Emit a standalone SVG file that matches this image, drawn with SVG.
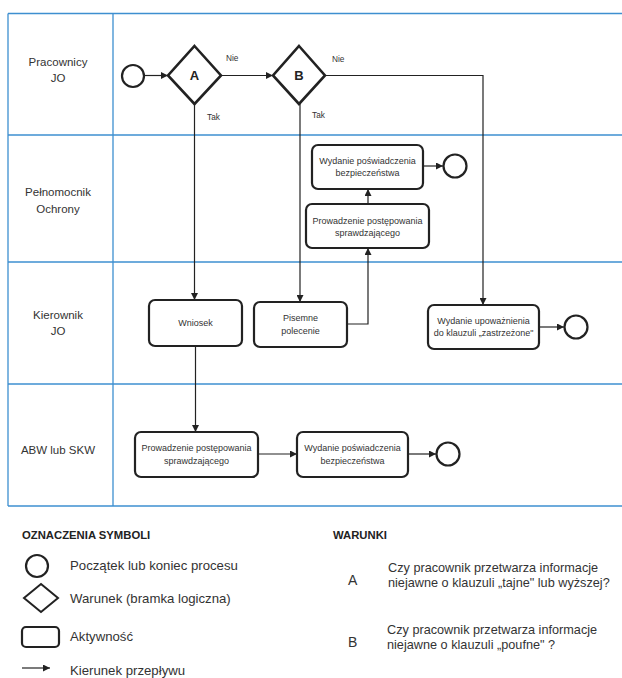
<svg xmlns="http://www.w3.org/2000/svg" width="622" height="678" viewBox="0 0 622 678">
<style>
.lane{stroke:#3d8fd0;stroke-width:1.3;fill:none}
.lbl{font-family:"Liberation Sans",Arial,sans-serif;font-size:11.5px;fill:#333;text-anchor:middle}
.bt{font-family:"Liberation Sans",Arial,sans-serif;font-size:9px;fill:#333;text-anchor:middle}
.sm{font-family:"Liberation Sans",Arial,sans-serif;font-size:8.3px;fill:#333}
.gt{font-family:"Liberation Sans",Arial,sans-serif;font-size:13px;font-weight:bold;fill:#222;text-anchor:middle}
.box{fill:#fff;stroke:#222;stroke-width:2.2}
.dia{fill:#fff;stroke:#222;stroke-width:2.6}
.ev{fill:#fff;stroke:#222;stroke-width:2.2}
.con{fill:none;stroke:#222;stroke-width:1.2}
.lg{font-family:"Liberation Sans",Arial,sans-serif;font-size:13.2px;fill:#333}
.cd{font-family:"Liberation Sans",Arial,sans-serif;font-size:12.7px;fill:#333}
.lh{font-family:"Liberation Sans",Arial,sans-serif;font-size:11.3px;font-weight:bold;fill:#222}
</style>
<defs>
<marker id="arr" viewBox="0 0 10 10" refX="10" refY="5" markerWidth="7" markerHeight="7" markerUnits="userSpaceOnUse" orient="auto">
<path d="M0,0 L10,5 L0,10 z" fill="#222"/>
</marker>
</defs>
<rect width="622" height="678" fill="#fff"/>
<g id="lanes">
<line class="lane" x1="8" y1="13.5" x2="622" y2="13.5"/>
<line class="lane" x1="8" y1="135" x2="622" y2="135"/>
<line class="lane" x1="8" y1="262" x2="622" y2="262"/>
<line class="lane" x1="8" y1="384" x2="622" y2="384"/>
<line class="lane" x1="8" y1="506" x2="622" y2="506"/>
<line class="lane" x1="8" y1="13.5" x2="8" y2="506"/>
<line class="lane" x1="113" y1="13.5" x2="113" y2="506"/>
<text class="lbl" x="58" y="66">Pracownicy</text>
<text class="lbl" x="58" y="82">JO</text>
<text class="lbl" x="58" y="196">Pełnomocnik</text>
<text class="lbl" x="58" y="213">Ochrony</text>
<text class="lbl" x="58" y="319">Kierownik</text>
<text class="lbl" x="58" y="335">JO</text>
<text class="lbl" x="58" y="454">ABW lub SKW</text>
</g>
<g id="connectors">
<line class="con" x1="144" y1="75.5" x2="168" y2="75.5" marker-end="url(#arr)"/>
<line class="con" x1="221" y1="75.5" x2="273" y2="75.5" marker-end="url(#arr)"/>
<polyline class="con" points="325,75.5 483,75.5 483,305" marker-end="url(#arr)"/>
<line class="con" x1="194.5" y1="104" x2="194.5" y2="300" marker-end="url(#arr)"/>
<line class="con" x1="300" y1="104" x2="300" y2="302" marker-end="url(#arr)"/>
<polyline class="con" points="347,324 368,324 368,248" marker-end="url(#arr)"/>
<line class="con" x1="368" y1="204" x2="368" y2="189" marker-end="url(#arr)"/>
<line class="con" x1="423" y1="166" x2="443" y2="166" marker-end="url(#arr)"/>
<line class="con" x1="539" y1="327" x2="564" y2="327" marker-end="url(#arr)"/>
<line class="con" x1="195.5" y1="346" x2="195.5" y2="432" marker-end="url(#arr)"/>
<line class="con" x1="258" y1="454" x2="297" y2="454" marker-end="url(#arr)"/>
<line class="con" x1="408" y1="454" x2="436" y2="454" marker-end="url(#arr)"/>
<text class="sm" x="226" y="61">Nie</text>
<text class="sm" x="207" y="120">Tak</text>
<text class="sm" x="332" y="62">Nie</text>
<text class="sm" x="312" y="118">Tak</text>
</g>
<g id="start"><circle class="ev" cx="133" cy="76" r="11"/></g>
<g id="gatewayA"><polygon class="dia" points="194.5,46 221,75.5 194.5,104 168,75.5"/><text class="gt" x="194.5" y="80">A</text></g>
<g id="gatewayB"><polygon class="dia" points="299,46 325,75.5 299,104 273,75.5"/><text class="gt" x="299" y="80">B</text></g>
<g id="wydanie_po"><rect class="box" x="312" y="145" width="111" height="44" rx="6"/><text class="bt" x="367.5" y="164">Wydanie poświadczenia</text><text class="bt" x="367.5" y="176">bezpieczeństwa</text></g>
<g id="end_po"><circle class="ev" cx="455" cy="166" r="11.5"/></g>
<g id="prowadzenie_po"><rect class="box" x="306" y="204" width="123" height="44" rx="6"/><text class="bt" x="367.5" y="224">Prowadzenie postępowania</text><text class="bt" x="367.5" y="236">sprawdzającego</text></g>
<g id="wniosek"><rect class="box" x="149" y="300" width="93" height="46" rx="6"/><text class="bt" x="195.5" y="326">Wniosek</text></g>
<g id="pisemne"><rect class="box" x="254" y="302" width="93" height="45" rx="6"/><text class="bt" x="300.5" y="321">Pisemne</text><text class="bt" x="300.5" y="334">polecenie</text></g>
<g id="upowaznienie"><rect class="box" x="428" y="305" width="111" height="44" rx="6"/><text class="bt" x="483.5" y="324">Wydanie upoważnienia</text><text class="bt" x="483.5" y="336">do klauzuli „zastrzeżone"</text></g>
<g id="end_kjo"><circle class="ev" cx="576" cy="327" r="11.5"/></g>
<g id="prowadzenie_abw"><rect class="box" x="135" y="432" width="123" height="45" rx="6"/><text class="bt" x="196.5" y="451">Prowadzenie postępowania</text><text class="bt" x="196.5" y="464">sprawdzającego</text></g>
<g id="wydanie_abw"><rect class="box" x="297" y="432" width="111" height="45" rx="6"/><text class="bt" x="352.5" y="451">Wydanie poświadczenia</text><text class="bt" x="352.5" y="464">bezpieczeństwa</text></g>
<g id="end_abw"><circle class="ev" cx="448" cy="454" r="11.5"/></g>
<g id="legend">
<text class="lh" x="22" y="539">OZNACZENIA SYMBOLI</text>
<circle class="ev" cx="37" cy="566" r="11"/>
<text class="lg" x="70" y="570">Początek lub koniec procesu</text>
<polygon class="dia" points="41,584 58,598 41,612 24,598" style="stroke-width:2"/>
<text class="lg" x="70" y="603">Warunek (bramka logiczna)</text>
<rect class="box" x="22" y="627" width="37" height="20" rx="4"/>
<text class="lg" x="70" y="641">Aktywność</text>
<line class="con" x1="22" y1="668" x2="50" y2="668" marker-end="url(#arr)"/>
<text class="lg" x="70" y="675">Kierunek przepływu</text>
</g>
<g id="conditions">
<text class="lh" x="333" y="539">WARUNKI</text>
<text class="cd" x="348" y="585" style="font-size:14px">A</text>
<text class="cd" x="388" y="572">Czy pracownik przetwarza informacje</text>
<text class="cd" x="388" y="587">niejawne o klauzuli „tajne" lub wyższej?</text>
<text class="cd" x="348" y="647" style="font-size:14px">B</text>
<text class="cd" x="387" y="634">Czy pracownik przetwarza informacje</text>
<text class="cd" x="387" y="649">niejawne o klauzuli „poufne" ?</text>
</g>
</svg>
